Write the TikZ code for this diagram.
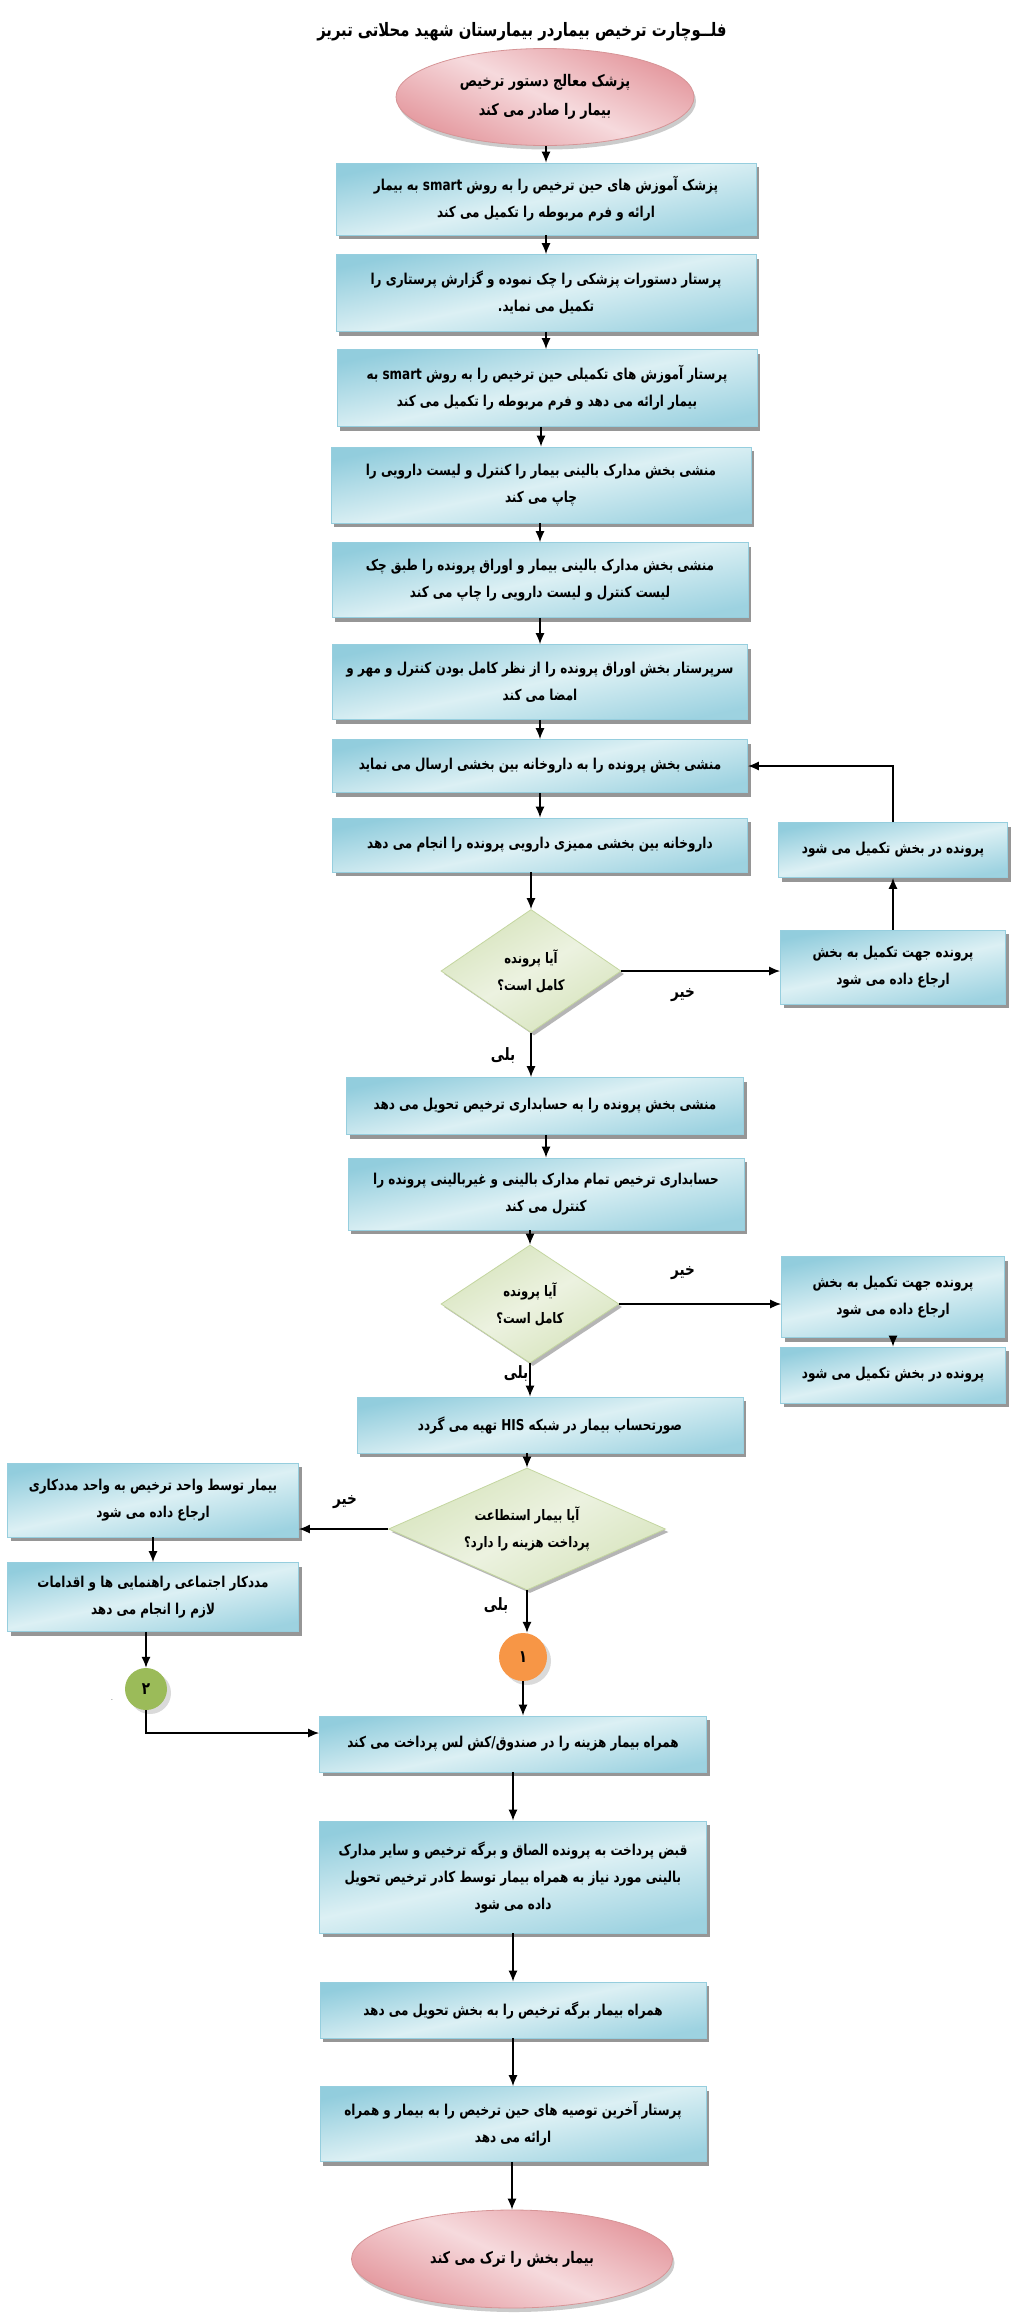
\documentclass[tikz,border=0pt]{standalone}
\usepackage{fontspec}
\usetikzlibrary{shapes.geometric,shadows,arrows.meta}
\newfontfamily\farsi[Script=Arabic,FakeStretch=0.8]{DejaVu Sans}
\TeXXeTstate=1
\newcommand{\fline}[1]{\beginR #1\endR}

\definecolor{boxdark}{RGB}{146,205,221}
\definecolor{boxlight}{RGB}{220,240,244}
\definecolor{boxline}{RGB}{150,206,222}
\definecolor{dmdfill}{RGB}{215,228,189}
\definecolor{dmdlight}{RGB}{236,242,224}
\definecolor{dmdline}{RGB}{196,214,160}
\definecolor{pinkdark}{RGB}{228,152,158}
\definecolor{pinklight}{RGB}{246,218,221}
\definecolor{pinkline}{RGB}{214,148,150}
\definecolor{orangec}{RGB}{247,150,70}
\definecolor{greenc}{RGB}{155,187,89}
\definecolor{shadowgray}{RGB}{150,150,150}

\tikzset{
    >={Latex[length=11pt,width=9pt]},
    arr/.style={->, line width=1.3pt},
    stepbox/.style={rectangle, draw=boxline, line width=0.8pt,
        top color=boxdark, bottom color=boxdark!85!boxlight, middle color=boxlight, shading angle=12,
        drop shadow={shadow xshift=3pt, shadow yshift=-4pt, fill=shadowgray, opacity=1},
        align=center, inner sep=3pt, font=\farsi\bfseries\fontsize{15}{27}\selectfont},
    askbox/.style={diamond, draw=dmdline, line width=0.8pt, inner sep=0pt,
        top color=dmdfill, bottom color=dmdfill, middle color=dmdlight, shading angle=30,
        drop shadow={shadow xshift=3pt, shadow yshift=-3pt, fill=shadowgray!70, opacity=1},
        align=center, font=\farsi\bfseries\fontsize{14.5}{27}\selectfont},
    endbox/.style={ellipse, draw=pinkline, line width=0.8pt, inner sep=0pt,
        top color=pinkdark, bottom color=pinkdark, middle color=pinklight, shading angle=-25,
        drop shadow={shadow xshift=2pt, shadow yshift=-4pt, fill=shadowgray!50, opacity=1},
        align=center, font=\farsi\bfseries\fontsize{16}{29}\selectfont},
    linkc/.style={circle, minimum size=46pt, inner sep=0pt,
        drop shadow={shadow xshift=4pt, shadow yshift=-4pt, fill=shadowgray!35, opacity=1},
        font=\farsi\bfseries\fontsize{17}{18}\selectfont},
    answer/.style={font=\farsi\bfseries\fontsize{17}{18}\selectfont}
}

\begin{document}
\begin{tikzpicture}[x=1pt,y=-1pt]
    \fill[white] (0,0) rectangle (1024,2321);
    \node[font=\farsi\bfseries\fontsize{18.5}{22}\selectfont] (title) at (522,32)
        {\fline{فلــوچارت ترخیص بیماردر بیمارستان شهید محلاتی تبریز}};

    \node[endbox, minimum width=298pt, minimum height=97pt] (start) at (545,97)
        {\fline{پزشک معالج دستور ترخیص}\\\fline{بیمار را صادر می کند}};
    \node[stepbox, minimum width=420pt, minimum height=72pt] (b1) at (546,199)
        {\fline{پزشک آموزش های حین ترخیص را به روش \beginL smart\endL{} به بیمار}\\\fline{ارائه و فرم مربوطه را تکمیل می کند}};
    \node[stepbox, minimum width=420pt, minimum height=77pt] (b2) at (546,293)
        {\fline{پرستار دستورات پزشکی را چک نموده و گزارش پرستاری را}\\\fline{تکمیل می نماید.}};
    \node[stepbox, minimum width=420pt, minimum height=77pt] (b3) at (547,388)
        {\fline{پرستار آموزش های تکمیلی حین ترخیص را به روش \beginL smart\endL{} به}\\\fline{بیمار ارائه می دهد و فرم مربوطه را تکمیل می کند}};
    \node[stepbox, minimum width=420pt, minimum height=76pt] (b4) at (541,485)
        {\fline{منشی بخش مدارک بالینی بیمار را کنترل و لیست دارویی را}\\\fline{چاپ می کند}};
    \node[stepbox, minimum width=416pt, minimum height=75pt] (b5) at (540,580)
        {\fline{منشی بخش مدارک بالینی بیمار و اوراق پرونده را طبق چک}\\\fline{لیست کنترل و لیست دارویی را چاپ می کند}};
    \node[stepbox, minimum width=415pt, minimum height=75pt] (b6) at (540,682)
        {\fline{سرپرستار بخش اوراق پرونده را از نظر کامل بودن کنترل و مهر و}\\\fline{امضا می کند}};
    \node[stepbox, minimum width=415pt, minimum height=53pt] (b7) at (540,766)
        {\fline{منشی بخش پرونده را به داروخانه بین بخشی ارسال می نماید}};
    \node[stepbox, minimum width=415pt, minimum height=54pt] (b8) at (540,845)
        {\fline{داروخانه بین بخشی ممیزی دارویی پرونده را انجام می دهد}};
    \node[askbox, shape aspect=1.46, minimum width=180pt, minimum height=123pt] (d1) at (531,971)
        {\fline{آیا پرونده}\\\fline{کامل است؟}};
    \node[stepbox, minimum width=225pt, minimum height=74pt] (r1) at (893,967)
        {\fline{پرونده جهت تکمیل به بخش}\\\fline{ارجاع داده می شود}};
    \node[stepbox, minimum width=229pt, minimum height=55pt] (r2) at (893,850)
        {\fline{پرونده در بخش تکمیل می شود}};
    \node[stepbox, minimum width=397pt, minimum height=57pt] (b9) at (545,1106)
        {\fline{منشی بخش پرونده را به حسابداری ترخیص تحویل می دهد}};
    \node[stepbox, minimum width=396pt, minimum height=72pt] (b10) at (546,1194)
        {\fline{حسابداری ترخیص تمام مدارک بالینی و غیربالینی پرونده را}\\\fline{کنترل می کند}};
    \node[askbox, shape aspect=1.5, minimum width=178pt, minimum height=118pt] (d2) at (530,1304)
        {\fline{آیا پرونده}\\\fline{کامل است؟}};
    \node[stepbox, minimum width=223pt, minimum height=81pt] (r3) at (893,1297)
        {\fline{پرونده جهت تکمیل به بخش}\\\fline{ارجاع داده می شود}};
    \node[stepbox, minimum width=225pt, minimum height=56pt] (r4) at (893,1375)
        {\fline{پرونده در بخش تکمیل می شود}};
    \node[stepbox, minimum width=386pt, minimum height=56pt] (b11) at (550,1425)
        {\fline{صورتحساب بیمار در شبکه \beginL HIS\endL{} تهیه می گردد}};
    \node[askbox, shape aspect=2.27, minimum width=277pt, minimum height=122pt] (d3) at (527,1529)
        {\fline{آیا بیمار استطاعت}\\\fline{پرداخت هزینه را دارد؟}};
    \node[stepbox, minimum width=291pt, minimum height=74pt] (l1) at (153,1500)
        {\fline{بیمار توسط واحد ترخیص به واحد مددکاری}\\\fline{ارجاع داده می شود}};
    \node[stepbox, minimum width=291pt, minimum height=69pt] (l2) at (153,1597)
        {\fline{مددکار اجتماعی راهنمایی ها و اقدامات}\\\fline{لازم را انجام می دهد}};
    \node[linkc, fill=greenc, minimum size=42pt] (c2) at (146,1689) {۲};
    \node[linkc, fill=orangec, minimum size=48pt] (c1) at (523,1657) {۱};
    \node[stepbox, minimum width=387pt, minimum height=56pt] (b12) at (513,1744)
        {\fline{همراه بیمار هزینه را در صندوق/کش لس پرداخت می کند}};
    \node[stepbox, minimum width=387pt, minimum height=112pt] (b13) at (513,1877)
        {\fline{قبض پرداخت به پرونده الصاق و برگه ترخیص و سایر مدارک}\\\fline{بالینی مورد نیاز به همراه بیمار توسط کادر ترخیص تحویل}\\\fline{داده می شود}};
    \node[stepbox, minimum width=386pt, minimum height=56pt] (b14) at (513,2010)
        {\fline{همراه بیمار برگه ترخیص را به بخش تحویل می دهد}};
    \node[stepbox, minimum width=386pt, minimum height=75pt] (b15) at (513,2124)
        {\fline{پرستار آخرین توصیه های حین ترخیص را به بیمار و همراه}\\\fline{ارائه می دهد}};
    \node[endbox, minimum width=321pt, minimum height=98pt] (end) at (512,2259)
        {\fline{بیمار بخش را ترک می کند}};

    \foreach \a/\b/\c in {start/b1/b1, b1/b2/b1, b2/b3/b2, b3/b4/b4, b4/b5/b5,
        b5/b6/b6, b6/b7/b7, b7/b8/b8, b8/d1/d1, d1/b9/d1, b9/b10/b10, b10/d2/d2,
        d2/b11/d2, b11/d3/d3, d3/c1/d3, l1/l2/l1, l2/c2/c2, c1/b12/c1,
        b12/b13/b12, b13/b14/b14, b14/b15/b15, b15/end/end, r3/r4/r3}
    {
        \draw[arr] (\a.south -| \c) -- (\b.north -| \c);
    }
    \draw[arr] (r1.north) -- (r2.south);
    \draw[arr] (r2.north) |- (b7.east);
    \draw[arr] (d1.east) -- (d1.east -| r1.west);
    \draw[arr] (d2.east) -- (d2.east -| r3.west);
    \draw[arr] (d3.west) -- (d3.west -| l1.east);
    \draw[arr] (c2.south) |- ([yshift=11pt]b12.west);

    \node[answer] (no1) at (683,995) {\fline{خیر}};
    \node[answer] (no2) at (683,1273) {\fline{خیر}};
    \node[answer] (no3) at (345,1502) {\fline{خیر}};
    \node[answer] (yes1) at (503,1056) {\fline{بلی}};
    \node[answer] (yes2) at (516,1373) {\fline{بلی}};
    \node[answer] (yes3) at (496,1605) {\fline{بلی}};
    \node[font=\fontsize{8}{8}\selectfont] (dot) at (112,1700) {.};
\end{tikzpicture}
\end{document}
